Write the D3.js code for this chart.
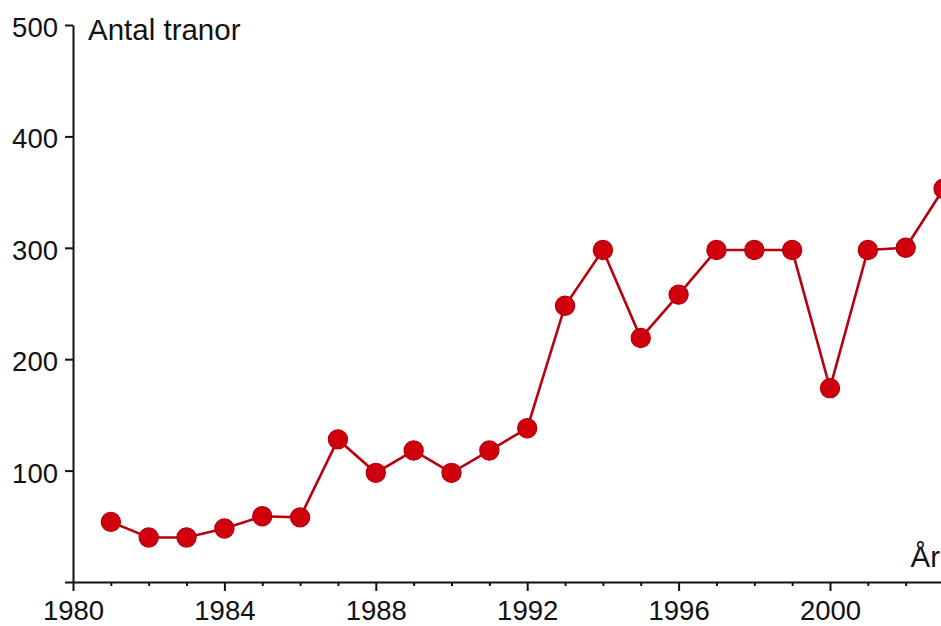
<!DOCTYPE html>
<html>
<head>
<meta charset="utf-8">
<script src="https://cdn.jsdelivr.net/npm/d3@7"></script>
<style>
  html, body { margin: 0; padding: 0; background: #fff; }
  svg { display: block; }
  text { font-family: "Liberation Sans", Arial, sans-serif; }
</style>
</head>
<body>
<svg id="chart" width="941" height="626"></svg>
<script>
const years = [1981,1982,1983,1984,1985,1986,1987,1988,1989,1990,1991,1992,1993,1994,1995,1996,1997,1998,1999,2000,2001,2002,2003];
const cranes = [54,40,40,48,59,58,128,98,118,98,118,138,248,298,219,258,298,298,298,174,298,300,353];
const yTicks = [0,100,200,300,400,500];
const xMajorTicks = [1980,1984,1988,1992,1996,2000];
const xMinorTicks = [1981,1982,1983,1985,1986,1987,1989,1990,1991,1993,1994,1995,1997,1998,1999,2001,2002,2003];
const yTitle = "Antal tranor";
const xTitle = "År";

const svg = d3.select("#chart");
const x0 = 73, x2000 = 830;
const x = d3.scaleLinear().domain([1980, 2000]).range([x0, x2000]);
const y = d3.scaleLinear().domain([0, 500]).range([582, 25]);
const xEnd = 941;

// Y axis
const gy = svg.append("g").attr("transform", `translate(${x0},0)`)
  .call(d3.axisLeft(y).tickValues(yTicks).tickSize(8).tickSizeOuter(0).tickPadding(7)
    .tickFormat(d => d === 0 ? "" : d));
gy.select(".domain").attr("stroke", "#111").attr("stroke-width", 2);
gy.selectAll(".tick line").attr("stroke", "#111").attr("stroke-width", 2);
gy.selectAll(".tick text").attr("font-size", 27.5).attr("fill", "#111").attr("dy", "0.42em");

// X axis (major)
const xs = d3.scaleLinear().domain([1980, x.invert(xEnd)]).range([x0, xEnd]);
const gx = svg.append("g").attr("transform", `translate(0,${y(0)})`)
  .call(d3.axisBottom(xs).tickValues(xMajorTicks).tickSize(9).tickSizeOuter(0).tickPadding(9)
    .tickFormat(d3.format("d")));
gx.select(".domain").attr("stroke", "#111").attr("stroke-width", 2);
gx.selectAll(".tick line").attr("stroke", "#111").attr("stroke-width", 2);
gx.selectAll(".tick text").attr("font-size", 27.5).attr("fill", "#111");

// X axis (minor)
const gxm = svg.append("g").attr("transform", `translate(0,${y(0)})`)
  .call(d3.axisBottom(xs).tickValues(xMinorTicks).tickSize(4).tickSizeOuter(0).tickFormat(""));
gxm.select(".domain").remove();
gxm.selectAll(".tick line").attr("stroke", "#111").attr("stroke-width", 2);

// Titles
svg.append("text").attr("x", 88).attr("y", 40).attr("font-size", 29.5).attr("fill", "#111").text(yTitle);
svg.append("text").attr("x", 940).attr("y", 567).attr("text-anchor", "end").attr("font-size", 29.5).attr("fill", "#111").text(xTitle);

// Line
const line = d3.line().x((d, i) => x(years[i])).y(d => y(d));
svg.append("path").datum(cranes)
  .attr("d", line).attr("fill", "none")
  .attr("stroke", "#b8000e").attr("stroke-width", 2.6);

// Points
svg.append("g").selectAll("circle").data(cranes).join("circle")
  .attr("cx", (d, i) => x(years[i])).attr("cy", d => y(d))
  .attr("r", 9.6).attr("fill", "#d0000c").attr("stroke", "#b0000e").attr("stroke-width", 1.2);
</script>
</body>
</html>
